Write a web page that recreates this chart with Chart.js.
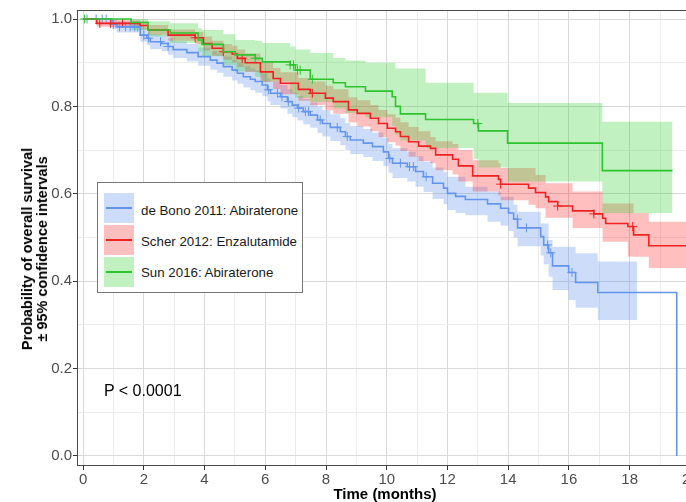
<!DOCTYPE html>
<html><head><meta charset="utf-8">
<script src="https://cdn.jsdelivr.net/npm/chart.js@4.4.1/dist/chart.umd.min.js"></script>
<style>
html,body{margin:0;padding:0;overflow:hidden;background:#fff;}
#wrap{position:relative;width:686px;height:502px;overflow:hidden;background:#fff;}
canvas{position:absolute;left:0;top:0;}
.t{position:absolute;font-family:"Liberation Sans",Arial,sans-serif;color:#000;white-space:nowrap;line-height:1;}
#ytitle{left:35px;top:249px;transform:translate(-50%,-50%) rotate(-90deg);font-weight:bold;font-size:14.5px;text-align:center;line-height:15px;}
#xtitle{left:385px;top:493px;transform:translate(-50%,-50%);font-weight:bold;font-size:15px;}
#pval{left:104px;top:391px;transform:translateY(-50%);font-size:16px;}
#legend{position:absolute;left:97px;top:182px;width:206px;height:111px;border:1px solid #777;background:#fff;box-sizing:border-box;}
.key{position:absolute;left:6px;width:30px;height:30px;}
.key i{position:absolute;left:2px;right:2px;top:14px;height:2px;}
.lt{position:absolute;left:43px;font-family:"Liberation Sans",Arial,sans-serif;font-size:13.3px;line-height:1;transform:translateY(-50%);white-space:nowrap;color:#1a1a1a;}
</style></head>
<body>
<div id="wrap">
<canvas id="c" width="705" height="502"></canvas>
<div class="t" id="ytitle">Probability of overall survival<br>± 95% confidence intervals</div>
<div class="t" id="xtitle">Time (months)</div>
<div class="t" id="pval">P &lt; 0.0001</div>
<div id="legend">
  <div class="key" style="top:10px;background:rgba(100,149,237,0.32)"><i style="background:#6495ED"></i></div>
  <div class="lt" style="top:28px">de Bono 2011: Abiraterone</div>
  <div class="key" style="top:42px;background:rgba(255,0,0,0.25)"><i style="background:#ee2222"></i></div>
  <div class="lt" style="top:59px">Scher 2012: Enzalutamide</div>
  <div class="key" style="top:74px;background:rgba(50,205,50,0.3)"><i style="background:#2ec42e"></i></div>
  <div class="lt" style="top:90px">Sun 2016: Abiraterone</div>
</div>
</div>
<script>
// ---------- data ----------
const seriesNames = ["de Bono 2011: Abiraterone", "Scher 2012: Enzalutamide", "Sun 2016: Abiraterone"];

const timeBlue = [0, 0.95, 1.11, 1.88, 2.10, 2.21, 2.59, 2.80, 2.97, 3.42, 3.79, 4.19, 4.41, 4.62, 4.91, 5.08, 5.28, 5.51, 5.67, 5.90, 6.07, 6.17, 6.50, 6.73, 6.89, 7.06, 7.25, 7.48, 7.72, 7.88, 8.14, 8.47, 8.64, 8.80, 9.23, 9.53, 9.89, 10.06, 10.19, 10.68, 10.95, 11.21, 11.51, 11.87, 12.00, 12.27, 12.59, 13.32, 13.75, 14.01, 14.18, 14.31, 15.07, 15.17, 15.33, 15.46, 15.99, 16.22, 16.95, 19.55];
const survBlue = [1.000, 0.988, 0.982, 0.963, 0.956, 0.948, 0.944, 0.937, 0.930, 0.923, 0.914, 0.906, 0.899, 0.891, 0.883, 0.876, 0.868, 0.862, 0.857, 0.849, 0.838, 0.830, 0.822, 0.811, 0.803, 0.796, 0.788, 0.780, 0.769, 0.761, 0.752, 0.742, 0.731, 0.723, 0.716, 0.708, 0.696, 0.681, 0.670, 0.662, 0.651, 0.639, 0.624, 0.613, 0.601, 0.594, 0.587, 0.577, 0.567, 0.556, 0.542, 0.522, 0.502, 0.483, 0.465, 0.435, 0.420, 0.397, 0.374, 0.000];
const bandTimeBlue = [0, 0.95, 1.11, 1.88, 2.10, 2.21, 2.59, 2.80, 2.97, 3.42, 3.79, 4.19, 4.41, 4.62, 4.91, 5.08, 5.28, 5.51, 5.67, 5.90, 6.07, 6.17, 6.50, 6.73, 6.89, 7.06, 7.25, 7.48, 7.72, 7.88, 8.14, 8.47, 8.64, 8.80, 9.23, 9.53, 9.89, 10.06, 10.19, 10.68, 10.95, 11.21, 11.51, 11.87, 12.00, 12.27, 12.59, 13.32, 13.75, 14.01, 14.18, 14.31, 15.07, 15.17, 15.33, 15.46, 15.99, 16.22, 16.95, 18.25];
const upperBlue = [1.000, 0.999, 0.995, 0.978, 0.972, 0.965, 0.962, 0.956, 0.949, 0.943, 0.935, 0.927, 0.921, 0.914, 0.906, 0.900, 0.892, 0.887, 0.882, 0.875, 0.864, 0.857, 0.849, 0.839, 0.831, 0.824, 0.817, 0.809, 0.799, 0.791, 0.782, 0.773, 0.762, 0.755, 0.748, 0.740, 0.729, 0.714, 0.704, 0.696, 0.686, 0.674, 0.660, 0.650, 0.639, 0.639, 0.616, 0.605, 0.593, 0.593, 0.575, 0.559, 0.532, 0.532, 0.494, 0.479, 0.479, 0.464, 0.445, 0.445];
const lowerBlue = [1.000, 0.977, 0.969, 0.948, 0.940, 0.931, 0.926, 0.918, 0.911, 0.903, 0.893, 0.884, 0.877, 0.868, 0.859, 0.852, 0.843, 0.837, 0.831, 0.823, 0.811, 0.803, 0.795, 0.783, 0.775, 0.768, 0.759, 0.751, 0.739, 0.731, 0.721, 0.711, 0.700, 0.691, 0.684, 0.675, 0.663, 0.648, 0.636, 0.628, 0.616, 0.604, 0.588, 0.576, 0.563, 0.556, 0.551, 0.536, 0.527, 0.515, 0.500, 0.480, 0.459, 0.439, 0.410, 0.380, 0.357, 0.339, 0.311, 0.311];
const censorBlue = [0.13, 0.43, 0.63, 0.76, 1.0, 1.2, 1.4, 1.55, 1.7, 1.8, 2.0, 2.15, 2.55, 2.8, 6.1, 6.4, 6.55, 6.76, 7.1, 7.32, 7.42, 7.81, 8.37, 8.70, 10.1, 10.45, 10.75, 10.88, 11.3, 14.3, 14.6, 15.3, 15.4, 16.1];

const timeRed = [0, 0.45, 1.88, 2.14, 2.80, 3.69, 3.96, 4.25, 4.62, 4.91, 5.08, 5.34, 5.84, 6.26, 6.50, 7.09, 7.48, 7.98, 8.24, 8.74, 9.03, 9.46, 9.73, 10.02, 10.29, 10.45, 10.72, 11.05, 11.44, 11.61, 12.17, 12.36, 12.83, 13.68, 13.75, 14.67, 14.90, 15.23, 15.33, 15.63, 16.12, 16.82, 17.11, 17.21, 17.94, 18.13, 18.63, 20.3];
const survRed = [1.000, 0.990, 0.985, 0.975, 0.963, 0.957, 0.944, 0.933, 0.925, 0.920, 0.910, 0.900, 0.879, 0.864, 0.853, 0.839, 0.830, 0.819, 0.811, 0.792, 0.784, 0.773, 0.761, 0.750, 0.742, 0.731, 0.719, 0.709, 0.704, 0.689, 0.679, 0.664, 0.641, 0.633, 0.622, 0.613, 0.603, 0.593, 0.582, 0.572, 0.561, 0.554, 0.544, 0.532, 0.525, 0.506, 0.481, 0.481];
const upperRed = [1.000, 0.997, 0.994, 0.986, 0.976, 0.971, 0.960, 0.950, 0.943, 0.939, 0.930, 0.921, 0.902, 0.888, 0.878, 0.865, 0.857, 0.847, 0.839, 0.821, 0.814, 0.803, 0.792, 0.782, 0.774, 0.764, 0.753, 0.743, 0.730, 0.720, 0.714, 0.700, 0.677, 0.670, 0.659, 0.659, 0.643, 0.624, 0.624, 0.624, 0.605, 0.605, 0.578, 0.578, 0.578, 0.556, 0.536, 0.536];
const lowerRed = [1.000, 0.982, 0.976, 0.964, 0.950, 0.943, 0.928, 0.916, 0.907, 0.901, 0.890, 0.879, 0.856, 0.840, 0.828, 0.813, 0.803, 0.791, 0.783, 0.763, 0.754, 0.743, 0.730, 0.718, 0.710, 0.698, 0.685, 0.675, 0.670, 0.654, 0.644, 0.628, 0.605, 0.596, 0.585, 0.575, 0.567, 0.545, 0.545, 0.545, 0.522, 0.522, 0.490, 0.490, 0.456, 0.456, 0.430, 0.430];
const censorRed = [0.55, 0.9, 1.3, 3.69, 4.62, 5.24, 7.55, 13.75, 15.63, 16.82, 18.1];

const timeGreen = [0, 1.58, 2.14, 2.87, 3.79, 3.92, 4.62, 5.01, 5.67, 5.90, 6.82, 6.99, 7.48, 8.24, 8.64, 9.30, 10.18, 10.29, 10.45, 11.28, 12.86, 13.02, 13.98, 17.10, 19.41];
const survGreen = [1.000, 0.992, 0.975, 0.968, 0.952, 0.942, 0.925, 0.918, 0.910, 0.902, 0.895, 0.883, 0.862, 0.854, 0.845, 0.835, 0.822, 0.800, 0.783, 0.770, 0.761, 0.744, 0.716, 0.653, 0.653];
const upperGreen = [1.000, 1.000, 0.995, 0.990, 0.979, 0.975, 0.965, 0.952, 0.950, 0.945, 0.937, 0.930, 0.922, 0.911, 0.905, 0.900, 0.900, 0.887, 0.887, 0.854, 0.831, 0.831, 0.808, 0.765, 0.765];
const lowerGreen = [1.000, 0.975, 0.960, 0.945, 0.925, 0.915, 0.895, 0.880, 0.868, 0.857, 0.830, 0.820, 0.810, 0.795, 0.785, 0.775, 0.755, 0.735, 0.722, 0.705, 0.680, 0.660, 0.628, 0.556, 0.556];
const censorGreen = [0.05, 5.67, 6.82, 6.93, 7.06, 7.15, 7.55, 13.0];

const xTicks = [0, 1, 2, 3, 4, 5, 6, 7, 8, 9, 10, 11, 12, 13, 14, 15, 16, 17, 18, 19, 20];
const yTicks = [0, 0.1, 0.2, 0.3, 0.4, 0.5, 0.6, 0.7, 0.8, 0.9, 1.0];

// ---------- styles ----------
const BLUE = '#6495ED', RED = '#ee2222', GREEN = '#2ec42e';
const BLUE_F = 'rgba(100,149,237,0.32)', RED_F = 'rgba(255,0,0,0.25)', GREEN_F = 'rgba(50,205,50,0.30)';
const FONT = '"Liberation Sans", Arial, sans-serif';
const MAJOR = '#d9d9d9', MINOR = '#ececec';

const xy = (ts, vs) => ts.map((t, i) => ({x: t, y: vs[i]}));
const stepAt = (ts, vs, t) => { let v = vs[0]; for (let i = 0; i < ts.length; i++) { if (ts[i] <= t) v = vs[i]; } return v; };

function lineDs(ts, vs, color) {
  return {data: xy(ts, vs), borderColor: color, borderWidth: 1.6, stepped: 'before', pointRadius: 0, fill: false, order: 0};
}
function censorDs(cs, ts, vs, color) {
  return {data: cs.map(t => ({x: t, y: stepAt(ts, vs, t)})), showLine: false, pointStyle: 'cross', pointRadius: 4.5,
          pointBorderColor: color, pointBorderWidth: 1, pointBackgroundColor: color, fill: false, order: 0};
}
function bandDs(ts, vs, fillColor, order, fillTarget) {
  return {data: xy(ts, vs), borderColor: 'rgba(0,0,0,0)', borderWidth: 0, stepped: 'before', pointRadius: 0,
          fill: fillTarget, backgroundColor: fillColor, order: order};
}

const frame = {
  id: 'frame',
  afterDatasetsDraw(chart) {
    const {ctx, chartArea: a} = chart;
    ctx.save();
    ctx.strokeStyle = '#4a4a4a';
    ctx.lineWidth = 1;
    ctx.strokeRect(Math.round(a.left) + 0.5, Math.round(a.top) + 0.5, Math.round(a.right - a.left) - 1, Math.round(a.bottom - a.top) - 1);
    ctx.restore();
  }
};

new Chart(document.getElementById('c'), {
  type: 'line',
  data: {
    datasets: [
      lineDs(timeGreen, survGreen, GREEN),
      lineDs(timeRed, survRed, RED),
      lineDs(timeBlue, survBlue, BLUE),
      censorDs(censorGreen, timeGreen, survGreen, GREEN),
      censorDs(censorRed, timeRed, survRed, RED),
      censorDs(censorBlue, timeBlue, survBlue, BLUE),
      bandDs(timeGreen, upperGreen, GREEN_F, 1, '+1'),
      bandDs(timeGreen, lowerGreen, 'rgba(0,0,0,0)', 1, false),
      bandDs(timeRed, upperRed, RED_F, 2, '+1'),
      bandDs(timeRed, lowerRed, 'rgba(0,0,0,0)', 2, false),
      bandDs(bandTimeBlue, upperBlue, BLUE_F, 3, '+1'),
      bandDs(bandTimeBlue, lowerBlue, 'rgba(0,0,0,0)', 3, false)
    ]
  },
  options: {
    responsive: false,
    animation: false,
    events: [],
    layout: {padding: {top: 10, right: 2, left: 0, bottom: 0}},
    plugins: {legend: {display: false}, tooltip: {enabled: false}, filler: {propagate: false}},
    scales: {
      x: {
        type: 'linear', min: -0.2, max: 20.3,
        afterBuildTicks: s => { s.ticks = xTicks.map(v => ({value: v})); },
        afterFit: s => { s.height = 36; },
        ticks: {
          callback: v => (Math.round(v) % 2 === 0 ? String(Math.round(v)) : ''),
          color: '#4d4d4d', font: {family: FONT, size: 15}, padding: 1, maxRotation: 0, autoSkip: false
        },
        grid: {
          color: c => (c.tick && Math.round(c.tick.value) % 2 === 0 ? MAJOR : MINOR),
          tickColor: c => (c.tick && Math.round(c.tick.value) % 2 === 0 ? '#333' : 'rgba(0,0,0,0)'),
          tickLength: 4, lineWidth: 1
        },
        border: {display: false}
      },
      y: {
        type: 'linear', min: -0.0229, max: 1.0206,
        afterBuildTicks: s => { s.ticks = yTicks.map(v => ({value: v})); },
        afterFit: s => { s.width = 77; },
        ticks: {
          callback: v => (Math.round(v * 10) % 2 === 0 ? Number(v).toFixed(1) : ''),
          color: '#4d4d4d', font: {family: FONT, size: 15}, padding: 1, autoSkip: false
        },
        grid: {
          color: c => (c.tick && Math.round(c.tick.value * 10) % 2 === 0 ? MAJOR : MINOR),
          tickColor: c => (c.tick && Math.round(c.tick.value * 10) % 2 === 0 ? '#333' : 'rgba(0,0,0,0)'),
          tickLength: 4, lineWidth: 1
        },
        border: {display: false}
      }
    }
  },
  plugins: [frame]
});
</script>
</body></html>
